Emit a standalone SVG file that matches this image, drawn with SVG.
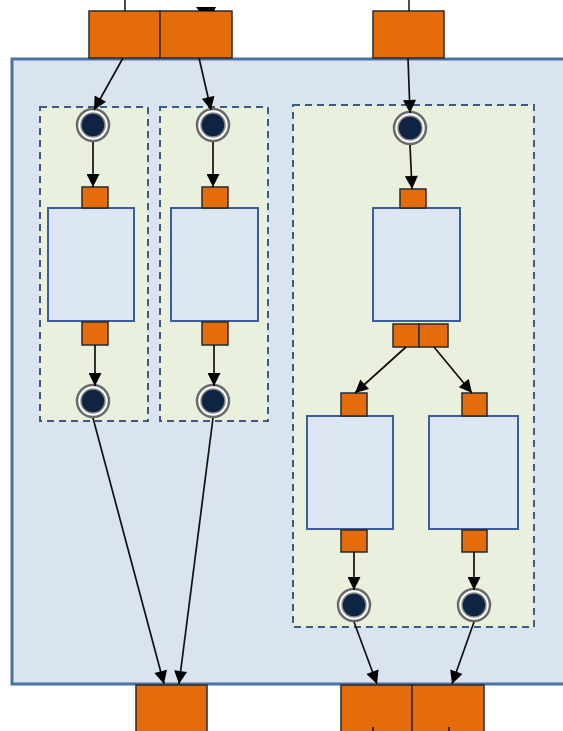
<svg xmlns="http://www.w3.org/2000/svg" width="563" height="731" viewBox="0 0 563 731">
<defs>
<style>
.outer{fill:#dae4f1;stroke:#4a72a6;stroke-width:3}
.grp{fill:#e9f0dd;stroke:#3e5d7e;stroke-width:2;stroke-dasharray:7,5}
.proc{fill:#dce6f2;stroke:#3b5d99;stroke-width:2}
.port{fill:#e46c0a;stroke:#2a2a2a;stroke-width:1.5}
.ring{fill:#0f2442;stroke:#8a8a8a;stroke-width:1.5}
.ringo{fill:#ffffff;stroke:#6a6a6a;stroke-width:2.5}
.conn{stroke:#111;stroke-width:1.7;fill:none;marker-end:url(#ah)}
.stub{stroke:#111;stroke-width:1.5;fill:none}
</style>
<marker id="ah" viewBox="0 0 10 10" refX="10" refY="5" markerWidth="14" markerHeight="13" markerUnits="userSpaceOnUse" orient="auto">
<path d="M0,0 L10,5 L0,10 z" fill="#000"/>
</marker>
</defs>
<rect width="563" height="731" fill="#ffffff"/>
<g id="container"><rect class="outer" x="12" y="59" width="560" height="625"/></g>
<g id="group1"><rect class="grp" x="40" y="107" width="108" height="314"/></g>
<g id="group2"><rect class="grp" x="160" y="107" width="108" height="314"/></g>
<g id="group3"><rect class="grp" x="293" y="105" width="241" height="522"/></g>

<g id="in1"><rect class="port" x="89" y="11" width="71" height="47"/></g>
<g id="in2"><rect class="port" x="160" y="11" width="72" height="47"/></g>
<g id="in3"><rect class="port" x="373" y="11" width="71" height="47"/></g>
<g id="out1"><rect class="port" x="136" y="685" width="71" height="50"/></g>
<g id="out2"><rect class="port" x="341" y="685" width="71" height="50"/></g>
<g id="out3"><rect class="port" x="412" y="685" width="72" height="50"/></g>

<g id="c1"><circle class="ringo" cx="93" cy="125" r="16"/><circle class="ring" cx="93" cy="125" r="12"/></g>
<g id="c2"><circle class="ringo" cx="213" cy="125" r="16"/><circle class="ring" cx="213" cy="125" r="12"/></g>
<g id="c3"><circle class="ringo" cx="410" cy="128" r="16"/><circle class="ring" cx="410" cy="128" r="12"/></g>
<g id="c4"><circle class="ringo" cx="93" cy="401" r="16"/><circle class="ring" cx="93" cy="401" r="12"/></g>
<g id="c5"><circle class="ringo" cx="213" cy="401" r="16"/><circle class="ring" cx="213" cy="401" r="12"/></g>
<g id="c6"><circle class="ringo" cx="354" cy="605" r="16"/><circle class="ring" cx="354" cy="605" r="12"/></g>
<g id="c7"><circle class="ringo" cx="474" cy="605" r="16"/><circle class="ring" cx="474" cy="605" r="12"/></g>

<g id="p1"><rect class="proc" x="48" y="208" width="86" height="113"/><rect class="port" x="82" y="187" width="26" height="21"/><rect class="port" x="82" y="322" width="26" height="23"/></g>
<g id="p2"><rect class="proc" x="171" y="208" width="87" height="113"/><rect class="port" x="202" y="187" width="26" height="21"/><rect class="port" x="202" y="322" width="26" height="23"/></g>
<g id="p3"><rect class="proc" x="373" y="208" width="87" height="113"/><rect class="port" x="400" y="189" width="26" height="19"/><rect class="port" x="393" y="324" width="26" height="23"/><rect class="port" x="419" y="324" width="29" height="23"/></g>
<g id="p4"><rect class="proc" x="307" y="416" width="86" height="113"/><rect class="port" x="341" y="393" width="26" height="23"/><rect class="port" x="341" y="530" width="26" height="22"/></g>
<g id="p5"><rect class="proc" x="429" y="416" width="89" height="113"/><rect class="port" x="462" y="393" width="25" height="23"/><rect class="port" x="462" y="530" width="25" height="22"/></g>

<g id="connectors">
<line class="stub" x1="125" y1="0" x2="125" y2="11"/>
<path d="M196,7 L216,7 L214,11 L199,11 z" fill="#000"/>
<line class="stub" x1="409" y1="0" x2="409" y2="11"/>
<line class="stub" x1="172" y1="731" x2="172" y2="735"/>
<line class="stub" x1="373" y1="727" x2="373" y2="735"/>
<line class="stub" x1="449" y1="727" x2="449" y2="735"/>
<line class="conn" x1="123" y1="58" x2="94" y2="110"/>
<line class="conn" x1="199" y1="58" x2="211" y2="110"/>
<line class="conn" x1="408" y1="58" x2="410" y2="113"/>
<line class="conn" x1="93" y1="142" x2="93" y2="187"/>
<line class="conn" x1="213" y1="142" x2="213" y2="187"/>
<line class="conn" x1="410" y1="145" x2="412" y2="189"/>
<line class="conn" x1="95" y1="345" x2="95" y2="386"/>
<line class="conn" x1="214" y1="345" x2="214" y2="386"/>
<line class="conn" x1="93" y1="418" x2="164" y2="684"/>
<line class="conn" x1="213" y1="418" x2="179" y2="684"/>
<line class="conn" x1="406" y1="347" x2="355" y2="393"/>
<line class="conn" x1="434" y1="347" x2="472" y2="393"/>
<line class="conn" x1="354" y1="552" x2="354" y2="590"/>
<line class="conn" x1="474" y1="552" x2="474" y2="590"/>
<line class="conn" x1="354" y1="622" x2="377" y2="684"/>
<line class="conn" x1="474" y1="622" x2="452" y2="684"/>
</g>
</svg>
